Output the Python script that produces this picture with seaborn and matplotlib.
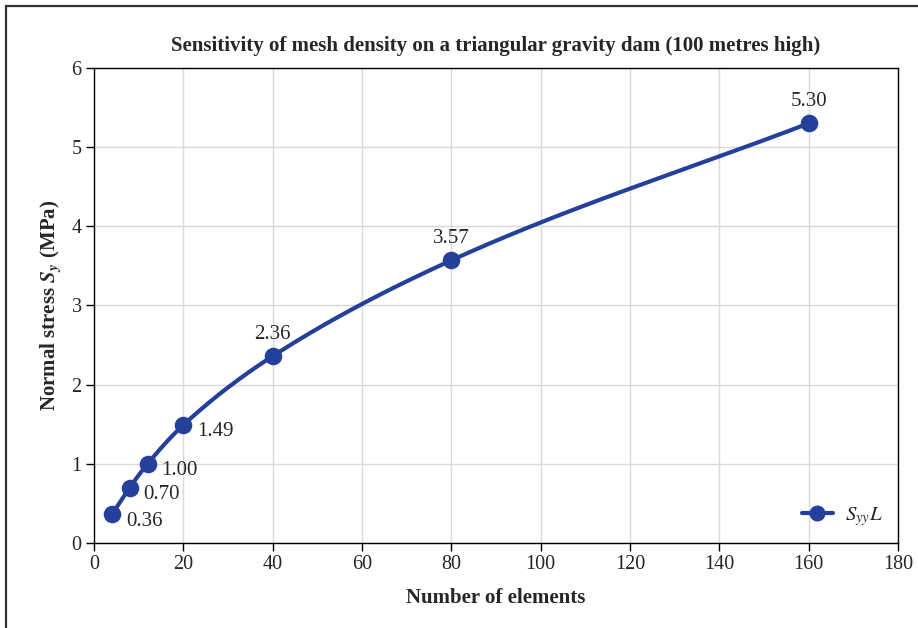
import matplotlib
matplotlib.use("Agg")
import matplotlib.pyplot as plt
from matplotlib.lines import Line2D
from matplotlib.patches import Rectangle
import seaborn as sns
import numpy as np
import pandas as pd

# data
elements = [4, 8, 12, 20, 40, 80, 160]
stress = [0.36, 0.70, 1.00, 1.49, 2.36, 3.57, 5.30]
label_side = ['right', 'right', 'right', 'right', 'top', 'top', 'top']
x_ticks = [0, 20, 40, 60, 80, 100, 120, 140, 160, 180]
y_ticks = [0, 1, 2, 3, 4, 5, 6]

sns.set_style("whitegrid")
plt.rcParams['font.family'] = ['Liberation Serif', 'DejaVu Serif']
plt.rcParams['mathtext.fontset'] = 'stix'

LINE = '#25409a'


def smooth(x, y, n=400):
    """monotone cubic (Fritsch-Carlson) through the points, for drawing only"""
    x = np.asarray(x, float)
    y = np.asarray(y, float)
    h = np.diff(x)
    d = np.diff(y) / h
    m = np.zeros_like(y)
    m[0], m[-1] = d[0], d[-1]
    for i in range(1, len(y) - 1):
        if d[i - 1] * d[i] > 0:
            w1 = 2 * h[i] + h[i - 1]
            w2 = h[i] + 2 * h[i - 1]
            m[i] = (w1 + w2) / (w1 / d[i - 1] + w2 / d[i])
    xs = np.linspace(x[0], x[-1], n)
    idx = np.clip(np.searchsorted(x, xs) - 1, 0, len(x) - 2)
    t = (xs - x[idx]) / h[idx]
    h00 = 2 * t**3 - 3 * t**2 + 1
    h10 = t**3 - 2 * t**2 + t
    h01 = -2 * t**3 + 3 * t**2
    h11 = t**3 - t**2
    ys = h00 * y[idx] + h10 * h[idx] * m[idx] + h01 * y[idx + 1] + h11 * h[idx] * m[idx + 1]
    return xs, ys


df = pd.DataFrame({'elements': elements, 'stress': stress})
xs, ys = smooth(elements, stress)
curve = pd.DataFrame({'x': xs, 'y': ys})

fig = plt.figure(figsize=(9.18, 6.28), dpi=100)
ax = fig.add_axes([0.1024, 0.1354, 0.8758, 0.7564])

# outer frame (only top/left edges visible in the original)
fig.patches.append(Rectangle((6 / 918, -0.05), 1.2, 1 - 6 / 628 + 0.05,
                             transform=fig.transFigure, fill=False,
                             edgecolor='#333333', linewidth=1.6))

sns.lineplot(data=curve, x='x', y='y', ax=ax, color=LINE, linewidth=3.0,
             legend=False, zorder=3)
sns.scatterplot(data=df, x='elements', y='stress', ax=ax, color=LINE, s=160,
                edgecolor=LINE, linewidth=0, legend=False, zorder=4)

for xv, yv, side in zip(elements, stress, label_side):
    if side == 'right':
        ax.annotate(f'{yv:.2f}', (xv, yv), xytext=(10, -5), textcoords='offset points',
                    ha='left', va='center', fontsize=15)
    else:
        ax.annotate(f'{yv:.2f}', (xv, yv), xytext=(0, 9), textcoords='offset points',
                    ha='center', va='bottom', fontsize=15)

ax.set_xlim(0, 180)
ax.set_ylim(0, 6)
ax.set_xticks(x_ticks)
ax.set_yticks(y_ticks)
ax.grid(True, color='#d9d9d9', linewidth=1.0)
for s in ax.spines.values():
    s.set_visible(True)
    s.set_color('black')
    s.set_linewidth(1.0)
ax.tick_params(axis='both', which='major', length=6, width=1.0, color='black',
               direction='out', labelsize=14.5, pad=3, bottom=True, left=True)

ax.set_title('Sensitivity of mesh density on a triangular gravity dam (100 metres high)',
             fontsize=15, fontweight='bold', pad=12)
ax.set_xlabel('Number of elements', fontsize=15, fontweight='bold', labelpad=10)
ax.set_ylabel('Normal stress $\\mathbfit{S_y}$ (MPa)', fontsize=15, fontweight='bold', labelpad=5)

handle = Line2D([], [], color=LINE, linewidth=3.0, marker='o', markersize=10.5)
ax.legend([handle], ['$S_{yy}L$'], loc='lower right', frameon=False, fontsize=15,
          handlelength=1.5, handletextpad=0.6, borderaxespad=0.3)

fig.savefig('out.png', dpi=100)
